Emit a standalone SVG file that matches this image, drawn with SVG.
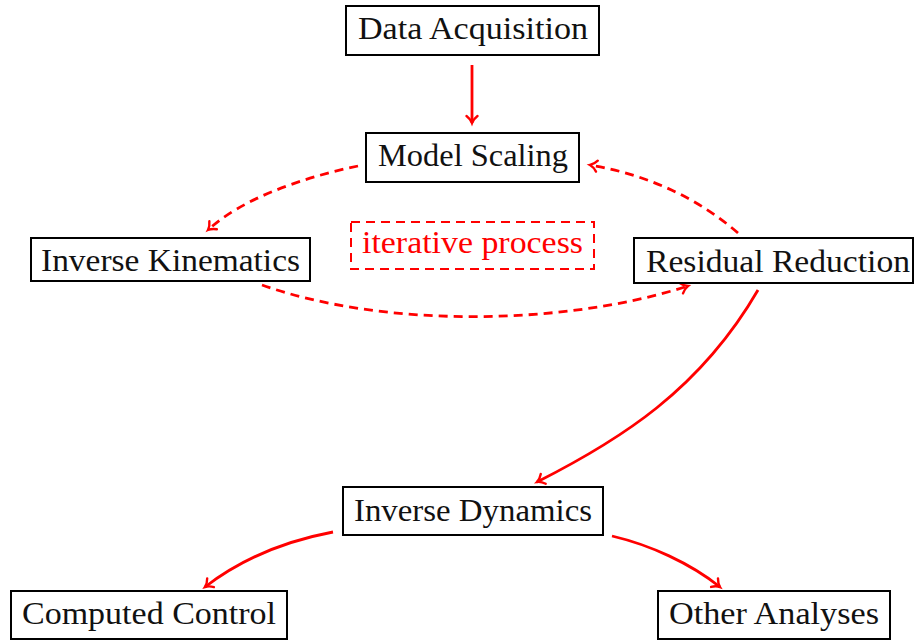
<svg xmlns="http://www.w3.org/2000/svg" width="915" height="641" viewBox="0 0 915 641">
  <style>
    .box { fill: #ffffff; stroke: #000000; stroke-width: 2; }
    .lbl { font-family: "Liberation Serif", "DejaVu Serif", serif; font-size: 32px; fill: #111111; text-anchor: middle; }
    .edge { fill: none; stroke: #ff0000; stroke-width: 2.8; marker-end: url(#tip); }
    .dash { stroke-dasharray: 9 6; }
    .note { fill: none; stroke: #ff0000; stroke-width: 2; stroke-dasharray: 9 6; }
    .notelbl { font-family: "Liberation Serif", "DejaVu Serif", serif; font-size: 31px; fill: #ff0000; text-anchor: middle; }
  </style>
  <defs>
    <marker id="tip" markerWidth="14" markerHeight="14" refX="10" refY="7" orient="auto" markerUnits="userSpaceOnUse" overflow="visible">
      <path d="M3,1.5 Q6,5.5 10,7 Q6,8.5 3,12.5" fill="none" stroke="#ff0000" stroke-width="2.4" stroke-linecap="round"/>
    </marker>
  </defs>

  <rect width="915" height="641" fill="#ffffff"/>

  <!-- connectors -->
  <g id="connectors">
    <path class="edge" d="M472,65 L472,123"/>
    <path class="edge dash" d="M358,166 C300,178 240,200 208,230"/>
    <path class="edge dash" d="M738,233 C700,200 650,175 590,165"/>
    <path class="edge dash" d="M262,285 C380,327 560,327 688,286"/>
    <path class="edge" d="M758,290 C700,390 620,440 537,482"/>
    <path class="edge" d="M333,532 C280,542 240,560 205,587"/>
    <path class="edge" d="M612,536 C650,545 690,563 720,587"/>
  </g>

  <!-- nodes -->
  <g id="data-acquisition">
    <rect class="box" x="346" y="6" width="253" height="49"/>
    <text class="lbl" x="473" y="39" textLength="230" lengthAdjust="spacingAndGlyphs">Data Acquisition</text>
  </g>
  <g id="model-scaling">
    <rect class="box" x="366" y="133" width="213" height="49"/>
    <text class="lbl" x="473" y="166" textLength="190" lengthAdjust="spacingAndGlyphs">Model Scaling</text>
  </g>
  <g id="iterative-process">
    <rect class="note" x="351" y="222" width="243" height="47"/>
    <text class="notelbl" x="472.5" y="253" textLength="221" lengthAdjust="spacingAndGlyphs">iterative process</text>
  </g>
  <g id="inverse-kinematics">
    <rect class="box" x="31" y="238" width="279" height="43"/>
    <text class="lbl" x="170.5" y="271" textLength="259" lengthAdjust="spacingAndGlyphs">Inverse Kinematics</text>
  </g>
  <g id="residual-reduction">
    <rect class="box" x="634" y="238" width="279" height="45"/>
    <text class="lbl" x="778" y="272" textLength="264" lengthAdjust="spacingAndGlyphs">Residual Reduction</text>
  </g>
  <g id="inverse-dynamics">
    <rect class="box" x="343" y="487" width="260" height="48"/>
    <text class="lbl" x="473" y="521" textLength="238" lengthAdjust="spacingAndGlyphs">Inverse Dynamics</text>
  </g>
  <g id="computed-control">
    <rect class="box" x="11" y="591" width="276" height="48"/>
    <text class="lbl" x="149" y="624" textLength="254" lengthAdjust="spacingAndGlyphs">Computed Control</text>
  </g>
  <g id="other-analyses">
    <rect class="box" x="658" y="591" width="232" height="48"/>
    <text class="lbl" x="774" y="624" textLength="210" lengthAdjust="spacingAndGlyphs">Other Analyses</text>
  </g>
</svg>
